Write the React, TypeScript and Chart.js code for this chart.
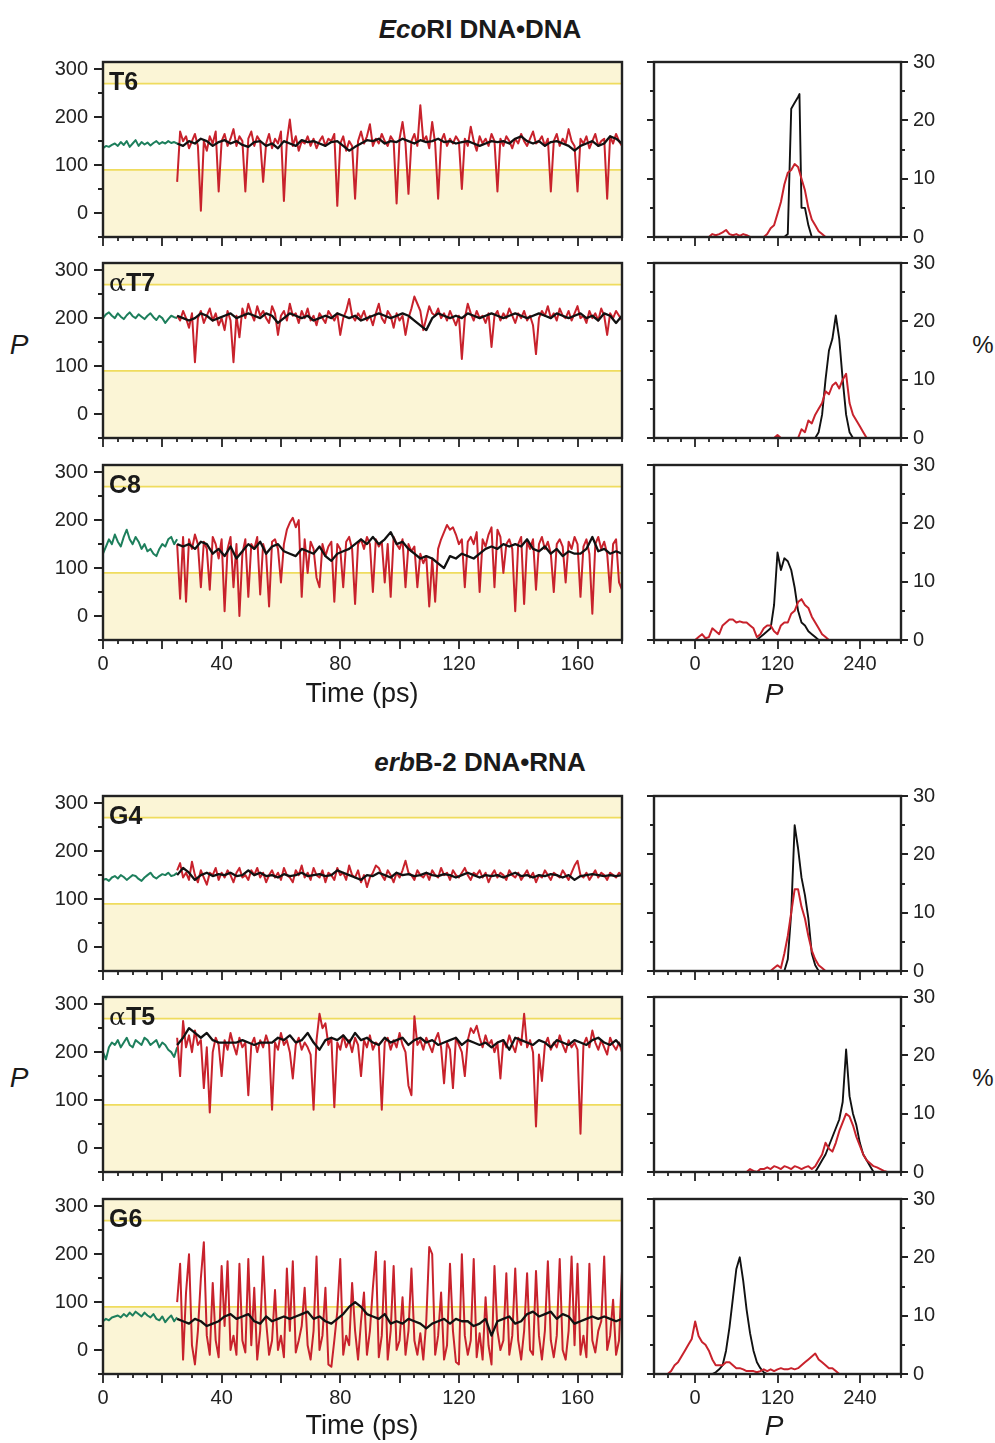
import React, { useEffect, useRef } from 'react';
import { Chart, registerables } from 'chart.js';
Chart.register(...registerables);

const FONT = '"Liberation Sans", Arial, Helvetica, sans-serif';
const RED = '#c8222c';
const BLACK = '#111111';
const GREEN = '#1d7f5c';
const SHADE = '#fbf5d6';
const BAND_LINE = '#efdc5e';
const FRAME = '#222222';
const TICK_COLOR = '#222222';

// axes
const TIME_MIN = 0;
const TIME_MAX = 175;
const P_MIN = -50;
const P_MAX = 315;
const SOUTH_LOW = 90;
const SOUTH_HIGH = 270;
const HIST_P_MIN = -60;
const HIST_P_MAX = 300;
const PCT_MIN = 0;
const PCT_MAX = 30;
const TIME_TICKS = [0, 40, 80, 120, 160];
const P_TICKS = [0, 100, 200, 300];
const HIST_P_TICKS = [0, 120, 240];
const PCT_TICKS = [0, 10, 20, 30];

// sampling of the trajectories (ps)
const GREEN_START = 0;
const GREEN_STEP = 1;
const RED_START = 25;
const RED_STEP = 1;
const BLACK_START = 25;
const BLACK_STEP = 2;

// ---------- EcoRI T6 ----------
const T6_GREEN = [135,140,138,142,145,140,148,142,150,138,145,152,140,148,143,147,141,146,150,144,148,145,150,146,148,145];
const T6_RED = [65,170,150,160,135,150,165,140,5,150,
130,160,145,170,45,150,165,140,155,175,
140,160,150,45,155,170,140,160,150,65,
145,165,135,155,145,170,25,150,195,140,
160,130,150,145,160,140,155,135,150,160,
140,155,150,165,15,145,160,130,150,140,
30,150,170,145,160,185,140,155,145,165,
150,140,160,150,20,155,190,145,40,150,
165,140,225,150,160,135,190,145,30,150,
165,140,155,145,160,150,50,155,140,180,
150,130,160,145,155,140,165,150,45,155,
140,160,150,135,155,145,165,150,140,155,
170,145,150,160,140,155,45,150,165,140,
155,145,175,150,140,45,155,145,160,135,
150,165,140,150,155,30,160,145,165,150,
140];
const T6_BLACK = [145,140,150,145,155,150,140,148,152,145,
150,142,138,148,150,140,145,135,150,145,
140,152,148,150,145,140,148,150,140,130,
138,145,152,150,155,145,150,148,155,150,
145,152,148,150,155,148,150,145,148,150,
145,140,145,150,148,150,145,155,160,150,
145,150,140,148,150,145,140,130,140,145,
150,140,145,160,155,145];
const T6_HIST_BLACK_P = [130,135,140,145,150,152,155,160,165,170];
const T6_HIST_BLACK = [0,0.5,22,23,24,24.5,5,5,2,0];
const T6_HIST_RED_P = [20,25,30,35,40,45,50,55,60,65,70,75,80,100,105,110,115,120,125,130,135,140,145,150,155,160,165,170,175,180,185,190];
const T6_HIST_RED = [0,0.5,0.3,0.5,0.8,1.2,0.5,0.3,0.5,0.2,0.5,0.3,0,0,0.5,1.5,2,4,6,9,11,11.5,12.5,12,10,8,5,3,2,1,0.5,0];

// ---------- EcoRI aT7 ----------
const AT7_GREEN = [200,208,212,205,200,210,203,198,206,212,204,200,208,203,198,205,210,202,196,205,200,190,198,205,202,200];
const AT7_RED = [205,195,215,200,180,210,108,200,215,190,
205,220,195,210,185,200,175,215,195,108,
205,160,220,200,230,210,195,225,205,215,
200,190,225,210,165,205,215,195,230,205,
210,190,215,200,220,195,205,185,210,200,
190,215,205,195,210,165,200,215,240,205,
195,210,200,215,195,205,185,210,230,200,
190,215,205,180,210,195,205,165,200,220,
245,230,215,175,200,225,210,205,220,200,
210,195,215,200,185,205,115,200,230,210,
195,215,200,205,190,210,140,205,215,195,
210,200,220,205,190,210,200,215,195,205,
185,125,200,215,205,225,200,210,195,220,
205,200,215,195,210,225,200,205,190,215,
200,210,195,220,205,165,210,200,215,205,
195];
const AT7_BLACK = [205,200,195,200,210,205,195,200,205,210,
200,205,210,205,200,210,205,190,200,210,
205,200,205,195,200,205,200,210,205,200,
205,195,200,205,210,205,200,205,210,205,
195,185,175,200,210,205,200,205,200,210,
205,200,205,210,205,200,205,210,205,200,
205,210,205,200,210,205,200,205,210,200,
205,195,210,205,190,205];
const AT7_HIST_BLACK_P = [175,180,185,190,195,200,205,210,215,220,225,230];
const AT7_HIST_BLACK = [0,1,4,10,15,17,21,17,10,4,1,0];
const AT7_HIST_RED_P = [115,120,125,150,155,160,165,170,175,180,185,190,195,200,205,210,215,220,225,230,235,240,245,250];
const AT7_HIST_RED = [0,0.5,0,0,1.5,1,3,2.5,4,5,6,8,7.5,9,9.5,8.5,10,11,6,4,3,2,1,0];

// ---------- EcoRI C8 ----------
const C8_GREEN = [130,145,160,150,170,155,145,165,180,160,150,165,155,140,150,135,140,130,125,140,150,145,160,165,150,160];
const C8_RED = [150,36,165,30,160,140,170,150,60,155,
140,55,165,150,120,160,10,140,165,60,
150,0,130,160,40,150,140,165,45,150,
130,20,155,160,140,70,150,180,195,205,
185,200,40,160,90,155,140,80,60,150,
125,145,155,30,150,140,60,155,165,140,
25,150,160,140,165,150,50,160,145,155,
70,150,40,165,150,140,160,60,150,135,
145,60,130,110,125,20,120,30,140,160,
175,190,180,185,170,150,160,60,155,165,
150,175,50,160,145,170,185,60,180,165,
90,150,160,140,10,150,165,25,155,140,
160,55,150,165,140,155,130,50,150,160,
145,70,155,140,165,150,40,145,160,130,
5,150,165,140,155,130,50,150,160,70,
55];
const C8_BLACK = [150,145,150,140,155,150,130,140,125,145,
120,135,150,140,155,130,145,150,135,130,
125,140,135,130,145,125,115,130,135,140,
150,160,150,165,150,160,175,150,155,140,
130,120,125,120,110,100,125,120,130,125,
120,130,140,145,140,150,145,150,145,160,
140,135,145,130,140,125,135,130,130,140,
165,135,140,130,135,130];
const C8_HIST_BLACK_P = [90,95,100,105,110,115,120,125,130,135,140,145,150,155,160,165,170,175,180];
const C8_HIST_BLACK = [0,0.5,1,1.5,2,6,15,12,14,13.5,12,9,5,3,2.5,1.5,1,0.5,0];
const C8_HIST_RED_P = [0,5,10,15,20,25,30,35,40,45,50,55,60,65,70,75,80,85,90,95,100,105,110,115,120,125,130,135,140,145,150,155,160,165,170,175,180,185,190,195];
const C8_HIST_RED = [0,0.5,1,0.3,0.5,2,1.5,1,2.5,3,3.5,3.5,3,3.2,3,3,2.5,2,0.5,1,2,2.5,2.5,1.5,1,2.5,3,3,4.5,5,6.5,7,6,5.5,4,3,2,1,0.5,0];

// ---------- erbB-2 G4 ----------
const G4_GREEN = [140,142,138,145,148,143,150,146,140,145,150,148,142,138,145,150,155,147,143,148,152,150,155,148,150,155];
const G4_RED = [160,175,145,155,140,178,150,135,160,145,
130,155,150,165,140,155,145,160,150,135,
155,165,145,150,140,160,150,165,145,155,
135,150,160,145,155,140,165,150,145,135,
160,150,170,145,155,140,165,150,145,160,
135,155,150,140,165,150,155,140,170,150,
145,160,135,150,125,145,155,170,165,150,
140,160,150,135,155,145,160,180,155,150,
140,160,150,145,155,140,160,150,145,165,
150,155,140,160,150,145,155,165,150,140,
155,150,160,145,155,135,150,160,145,155,
150,140,160,150,145,155,140,150,160,145,
155,135,150,145,160,150,140,155,150,145,
160,150,140,155,170,180,150,145,155,140,
150,160,145,155,150,140,155,150,145,155,
150];
const G4_BLACK = [150,165,155,140,150,155,148,152,150,155,
148,150,160,150,155,148,150,145,152,148,
150,155,148,150,152,148,150,160,155,150,
145,140,150,148,155,150,145,155,150,152,
148,150,155,150,148,152,150,145,150,155,
150,145,150,148,150,145,150,155,148,150,
145,150,148,152,150,145,150,140,148,150,
152,150,148,150,148,150];
const G4_HIST_BLACK_P = [130,135,140,145,150,155,160,165,170,175,180];
const G4_HIST_BLACK = [0,2,10,25,21,16,13,9,3,1,0];
const G4_HIST_RED_P = [110,115,120,125,130,135,140,145,150,155,160,165,170,175,180,185,190];
const G4_HIST_RED = [0,0.5,1,0.5,3,6,10,14,14,11,9,6,3.5,2,1,0.5,0];

// ---------- erbB-2 aT5 ----------
const AT5_GREEN = [200,185,210,220,215,225,210,220,230,215,210,225,220,215,230,225,215,220,225,210,220,215,205,200,190,210];
const AT5_RED = [230,150,265,210,235,200,245,215,225,125,
210,74,200,230,215,150,225,205,240,215,
195,230,210,220,110,215,230,200,225,210,
235,215,80,220,205,240,215,225,200,145,
215,230,205,220,210,195,80,225,280,250,
260,215,230,85,220,205,235,210,225,200,
230,215,150,225,210,235,205,220,215,80,
220,230,205,225,210,240,215,200,130,110,
275,215,225,205,230,215,200,225,240,210,
135,220,205,125,230,215,200,150,225,250,
240,255,230,210,235,215,225,200,220,145,
225,210,235,215,200,230,215,280,210,225,
200,45,195,140,215,230,205,220,210,235,
215,200,225,210,220,205,30,215,230,210,
245,220,205,225,210,195,230,215,205,220,
200];
const AT5_BLACK = [215,230,250,240,230,240,225,220,220,220,
220,225,220,215,220,220,220,230,225,235,
220,225,240,220,205,225,230,225,235,220,
240,225,230,220,215,230,220,225,230,215,
225,230,220,225,215,220,225,230,215,225,
220,215,220,210,220,225,205,230,225,220,
215,225,220,210,225,220,215,225,220,215,
225,230,220,215,225,210];
const AT5_HIST_BLACK_P = [175,180,185,190,195,200,205,210,215,220,225,230,235,240,245,250,255,260];
const AT5_HIST_BLACK = [0,1,2,3,4.5,6,7.5,9,12,21,13,10,8,5,3,2,1,0];
const AT5_HIST_RED_P = [75,80,85,90,95,100,105,110,115,120,125,130,135,140,145,150,155,160,165,170,175,180,185,190,195,200,205,210,215,220,225,230,235,240,245,250,255,260,265,270,275,280];
const AT5_HIST_RED = [0,0.5,0.2,0,0.5,0.5,0.8,0.5,1,0.8,0.5,1,0.8,0.5,1,0.8,0.5,0.8,1,0.5,1,2,3,5,4,3.5,5,7,8.5,10,9.5,8,6,4.5,3,2,1.5,1,0.8,0.5,0.2,0];

// ---------- erbB-2 G6 ----------
const G6_GREEN = [60,65,62,68,70,72,68,75,70,78,72,80,75,70,78,72,68,75,65,62,70,58,66,72,60,68];
const G6_RED = [100,180,-20,120,200,10,-30,40,150,225,
30,-10,140,20,-15,175,50,185,0,30,
-10,180,20,-5,190,10,130,-20,40,195,
60,-10,20,125,0,30,-15,170,40,185,
-5,20,50,130,10,-20,40,195,0,30,
130,-30,-35,20,80,190,-10,30,10,140,
40,-20,60,120,-10,40,130,205,-15,30,
185,-20,40,175,0,20,110,-10,40,170,
20,-10,35,-20,60,215,200,-10,30,120,
-20,10,180,40,-25,-30,200,30,-10,20,
190,-15,35,-20,110,10,-30,175,40,0,
20,160,-10,30,170,20,-20,40,160,0,
-10,165,30,-20,40,185,20,-15,30,190,
0,-20,40,195,10,180,-10,30,-15,180,
20,-5,40,60,195,0,30,105,-10,20,
165];
const G6_BLACK = [65,60,55,65,60,50,55,60,70,75,
65,70,75,60,55,70,60,65,70,65,
70,75,80,65,70,60,55,65,75,90,
100,90,75,70,65,75,55,60,55,65,
60,55,45,55,60,65,55,65,60,60,
50,55,65,30,60,65,70,55,60,75,
80,70,75,80,65,75,70,55,60,65,
70,65,70,65,60,65];
const G6_HIST_BLACK_P = [25,30,35,40,45,50,55,60,65,70,75,80,85,90,95,100,105];
const G6_HIST_BLACK = [0,0.3,0.8,1.5,4,8,13,18,20,16,11,7,4,2,1,0.3,0];
const G6_HIST_RED_P = [-40,-35,-30,-25,-20,-15,-10,-5,0,5,10,15,20,25,30,35,40,45,50,55,60,65,70,75,80,85,90,95,100,105,110,115,120,125,130,135,140,145,150,155,160,165,170,175,180,185,190,195,200,205,210];
const G6_HIST_RED = [0,0.5,1.5,2,3,4,5,6,9,6.5,5.5,5,4,2.5,1.5,1.5,1.5,2,2,1.5,1,1,0.8,0.5,0.5,0.5,0.3,0.5,0.8,0.5,0.8,0.5,0.8,1,0.8,0.8,1,0.8,1,1.5,2,2.5,3,3.5,2.5,2,1.5,1,1,0.5,0];

type Panel = {
  label: string;
  greek: boolean;
  top: number;
  bottomLabels: boolean;
  green: number[];
  red: number[];
  black: number[];
  hbP: number[];
  hb: number[];
  hrP: number[];
  hr: number[];
};

const PANELS: Panel[] = [
  { label: 'T6', greek: false, top: 62, bottomLabels: false, green: T6_GREEN, red: T6_RED, black: T6_BLACK, hbP: T6_HIST_BLACK_P, hb: T6_HIST_BLACK, hrP: T6_HIST_RED_P, hr: T6_HIST_RED },
  { label: 'T7', greek: true, top: 263, bottomLabels: false, green: AT7_GREEN, red: AT7_RED, black: AT7_BLACK, hbP: AT7_HIST_BLACK_P, hb: AT7_HIST_BLACK, hrP: AT7_HIST_RED_P, hr: AT7_HIST_RED },
  { label: 'C8', greek: false, top: 465, bottomLabels: true, green: C8_GREEN, red: C8_RED, black: C8_BLACK, hbP: C8_HIST_BLACK_P, hb: C8_HIST_BLACK, hrP: C8_HIST_RED_P, hr: C8_HIST_RED },
  { label: 'G4', greek: false, top: 796, bottomLabels: false, green: G4_GREEN, red: G4_RED, black: G4_BLACK, hbP: G4_HIST_BLACK_P, hb: G4_HIST_BLACK, hrP: G4_HIST_RED_P, hr: G4_HIST_RED },
  { label: 'T5', greek: true, top: 997, bottomLabels: false, green: AT5_GREEN, red: AT5_RED, black: AT5_BLACK, hbP: AT5_HIST_BLACK_P, hb: AT5_HIST_BLACK, hrP: AT5_HIST_RED_P, hr: AT5_HIST_RED },
  { label: 'G6', greek: false, top: 1199, bottomLabels: true, green: G6_GREEN, red: G6_RED, black: G6_BLACK, hbP: G6_HIST_BLACK_P, hb: G6_HIST_BLACK, hrP: G6_HIST_RED_P, hr: G6_HIST_RED },
];

const PLOT_H = 175;
const PAD_TOP = 14;
const TICK_FONT = { family: FONT, size: 20 };

function range(a: number, b: number, s: number) {
  const out: number[] = [];
  for (let v = a; v <= b + 1e-9; v += s) out.push(v);
  return out;
}

function series(vals: number[], start: number, step: number) {
  return vals.map((v, i) => ({ x: start + i * step, y: v }));
}
function pairs(xs: number[], ys: number[]) {
  return xs.map((x, i) => ({ x, y: ys[i] }));
}

function fixBox(s: any, w: number | null, h: number | null) {
  if (w !== null) s.width = w;
  if (h !== null) s.height = h;
  s.paddingLeft = 0;
  s.paddingRight = 0;
  s.paddingTop = 0;
  s.paddingBottom = 0;
}

type TickSpec = { axis: string; side: 'bottom' | 'left' | 'right'; values: number[]; major: number[]; minorLen: number; majorLen: number };

function framePlugin(shade: boolean, specs: TickSpec[]) {
  return {
    id: 'frame',
    beforeDatasetsDraw(chart: any) {
      if (!shade) return;
      const { ctx, chartArea: a, scales } = chart;
      const y = scales.y;
      const yLo = y.getPixelForValue(SOUTH_LOW);
      const yHi = y.getPixelForValue(SOUTH_HIGH);
      ctx.save();
      ctx.fillStyle = SHADE;
      ctx.fillRect(a.left, yLo, a.right - a.left, a.bottom - yLo);
      ctx.fillRect(a.left, a.top, a.right - a.left, yHi - a.top);
      ctx.strokeStyle = BAND_LINE;
      ctx.lineWidth = 1.8;
      ctx.beginPath();
      ctx.moveTo(a.left, yLo); ctx.lineTo(a.right, yLo);
      ctx.moveTo(a.left, yHi); ctx.lineTo(a.right, yHi);
      ctx.stroke();
      ctx.restore();
    },
    afterDraw(chart: any) {
      const { ctx, chartArea: a, scales } = chart;
      ctx.save();
      ctx.strokeStyle = FRAME;
      ctx.lineWidth = 1.8;
      ctx.beginPath();
      for (const s of specs) {
        const sc = scales[s.axis];
        for (const v of s.values) {
          const len = s.major.includes(v) ? s.majorLen : s.minorLen;
          const p = Math.round(sc.getPixelForValue(v));
          if (s.side === 'bottom') { ctx.moveTo(p, a.bottom); ctx.lineTo(p, a.bottom + len); }
          else if (s.side === 'left') { ctx.moveTo(a.left, p); ctx.lineTo(a.left - len, p); }
          else { ctx.moveTo(a.right, p); ctx.lineTo(a.right + len, p); }
        }
      }
      ctx.stroke();
      ctx.lineWidth = 2.4;
      ctx.strokeRect(a.left, a.top, a.right - a.left, a.bottom - a.top);
      ctx.restore();
    },
  };
}

const lineDs = (data: any[], color: string, width: number, order: number) => ({
  data, borderColor: color, backgroundColor: color, borderWidth: width, showLine: true,
  pointRadius: 0, tension: 0, fill: false, order, borderJoinStyle: 'round' as const,
});

function timeConfig(p: Panel, bottomH: number): any {
  return {
    type: 'scatter',
    data: {
      datasets: [
        lineDs(series(p.black, BLACK_START, BLACK_STEP), BLACK, 2.3, 0),
        lineDs(series(p.red, RED_START, RED_STEP), RED, 2, 1),
        lineDs(series(p.green, GREEN_START, GREEN_STEP), GREEN, 2, 2),
      ],
    },
    options: {
      responsive: false, animation: false, devicePixelRatio: 1, events: [],
      layout: { padding: { top: PAD_TOP, right: 10, left: 0, bottom: 0 } },
      plugins: { legend: { display: false }, tooltip: { enabled: false }, title: { display: false } },
      scales: {
        x: {
          type: 'linear', min: TIME_MIN, max: TIME_MAX,
          grid: { display: false, drawTicks: false }, border: { display: false },
          ticks: { display: p.bottomLabels, font: TICK_FONT, color: TICK_COLOR, padding: 12, maxRotation: 0 },
          afterBuildTicks: (s: any) => { s.ticks = TIME_TICKS.map((v) => ({ value: v })); },
          afterFit: (s: any) => fixBox(s, null, bottomH),
        },
        y: {
          type: 'linear', min: P_MIN, max: P_MAX,
          grid: { display: false, drawTicks: false }, border: { display: false },
          ticks: { font: TICK_FONT, color: TICK_COLOR, padding: 15 },
          afterBuildTicks: (s: any) => { s.ticks = P_TICKS.map((v) => ({ value: v })); },
          afterFit: (s: any) => fixBox(s, 63, null),
        },
      },
    },
    plugins: [framePlugin(true, [
      { axis: 'x', side: 'bottom', values: range(TIME_MIN, TIME_MAX, 5), major: range(0, 160, 20), minorLen: 4, majorLen: 9 },
      { axis: 'y', side: 'left', values: range(-50, 300, 50), major: P_TICKS, minorLen: 5, majorLen: 9 },
    ])],
  };
}

function histConfig(p: Panel, bottomH: number): any {
  return {
    type: 'scatter',
    data: {
      datasets: [
        lineDs(pairs(p.hrP, p.hr), RED, 2, 0),
        lineDs(pairs(p.hbP, p.hb), BLACK, 1.9, 1),
      ],
    },
    options: {
      responsive: false, animation: false, devicePixelRatio: 1, events: [],
      layout: { padding: { top: PAD_TOP, right: 0, left: 0, bottom: 0 } },
      plugins: { legend: { display: false }, tooltip: { enabled: false } },
      scales: {
        x: {
          type: 'linear', min: HIST_P_MIN, max: HIST_P_MAX,
          grid: { display: false, drawTicks: false }, border: { display: false },
          ticks: { display: p.bottomLabels, font: TICK_FONT, color: TICK_COLOR, padding: 12, maxRotation: 0 },
          afterBuildTicks: (s: any) => { s.ticks = HIST_P_TICKS.map((v) => ({ value: v })); },
          afterFit: (s: any) => fixBox(s, null, bottomH),
        },
        y: {
          type: 'linear', position: 'left', min: PCT_MIN, max: PCT_MAX,
          grid: { display: false, drawTicks: false }, border: { display: false },
          ticks: { display: false },
          afterBuildTicks: (s: any) => { s.ticks = PCT_TICKS.map((v) => ({ value: v })); },
          afterFit: (s: any) => fixBox(s, 14, null),
        },
        y2: {
          type: 'linear', position: 'right', min: PCT_MIN, max: PCT_MAX,
          grid: { display: false, drawTicks: false }, border: { display: false },
          ticks: { font: TICK_FONT, color: TICK_COLOR, padding: 12 },
          afterBuildTicks: (s: any) => { s.ticks = PCT_TICKS.map((v) => ({ value: v })); },
          afterFit: (s: any) => fixBox(s, 49, null),
        },
      },
    },
    plugins: [framePlugin(false, [
      { axis: 'x', side: 'bottom', values: range(HIST_P_MIN, HIST_P_MAX, 20), major: HIST_P_TICKS, minorLen: 4, majorLen: 9 },
      { axis: 'y', side: 'left', values: range(0, 30, 5), major: PCT_TICKS, minorLen: 4, majorLen: 7 },
      { axis: 'y', side: 'right', values: range(0, 30, 5), major: PCT_TICKS, minorLen: 4, majorLen: 7 },
    ])],
  };
}

function ChartBox({ left, top, width, height, make }: { left: number; top: number; width: number; height: number; make: () => any }) {
  const ref = useRef<HTMLCanvasElement>(null);
  useEffect(() => {
    const c = new Chart(ref.current as HTMLCanvasElement, make());
    return () => c.destroy();
  }, []);
  return (
    <div style={{ position: 'absolute', left, top, width, height }}>
      <canvas ref={ref} width={width} height={height} style={{ width, height, display: 'block' }} />
    </div>
  );
}

function Text({ x, y, children, style }: { x: number; y: number; children: React.ReactNode; style?: React.CSSProperties }) {
  return (
    <div style={{ position: 'absolute', left: x, top: y, transform: 'translate(-50%, -50%)', whiteSpace: 'nowrap', fontFamily: FONT, color: '#1a1a1a', lineHeight: 1, ...style }}>
      {children}
    </div>
  );
}

export default function App() {
  return (
    <div style={{ position: 'absolute', left: 0, top: 0, width: 995, height: 1443, background: '#ffffff', overflow: 'hidden' }}>
      <Text x={480} y={29} style={{ fontSize: 26, fontWeight: 'bold' }}><i>Eco</i>RI DNA•DNA</Text>
      <Text x={480} y={762} style={{ fontSize: 26, fontWeight: 'bold' }}><i>erb</i>B-2 DNA•RNA</Text>

      {PANELS.map((p) => {
        const bottomH = p.bottomLabels ? 42 : 12;
        const h = PAD_TOP + PLOT_H + bottomH;
        return (
          <React.Fragment key={p.label}>
            <ChartBox left={40} top={p.top - PAD_TOP} width={592} height={h} make={() => timeConfig(p, bottomH)} />
            <ChartBox left={640} top={p.top - PAD_TOP} width={310} height={h} make={() => histConfig(p, bottomH)} />
            <div style={{ position: 'absolute', left: 109, top: p.top + 7, fontFamily: FONT, fontSize: 25, fontWeight: 'bold', color: '#1a1a1a', lineHeight: 1 }}>
              {p.greek ? <span style={{ fontWeight: 'normal', fontFamily: '"DejaVu Serif", serif' }}>α</span> : null}{p.label}
            </div>
          </React.Fragment>
        );
      })}

      <Text x={362} y={693} style={{ fontSize: 27 }}>Time (ps)</Text>
      <Text x={362} y={1425} style={{ fontSize: 27 }}>Time (ps)</Text>
      <Text x={774} y={694} style={{ fontSize: 28, fontStyle: 'italic' }}>P</Text>
      <Text x={774} y={1426} style={{ fontSize: 28, fontStyle: 'italic' }}>P</Text>
      <Text x={19} y={345} style={{ fontSize: 28, fontStyle: 'italic' }}>P</Text>
      <Text x={19} y={1078} style={{ fontSize: 28, fontStyle: 'italic' }}>P</Text>
      <Text x={983} y={345} style={{ fontSize: 24 }}>%</Text>
      <Text x={983} y={1078} style={{ fontSize: 24 }}>%</Text>
    </div>
  );
}
